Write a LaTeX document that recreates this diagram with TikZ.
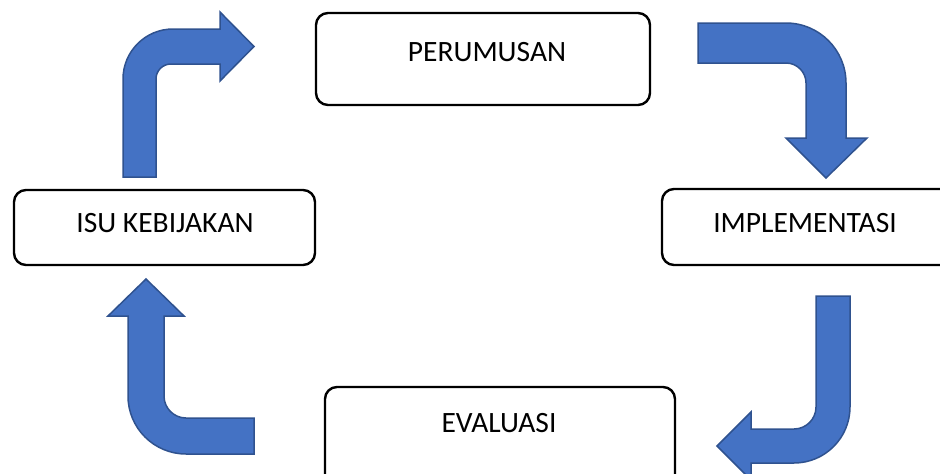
\documentclass[tikz,border=0pt]{standalone}
\usepackage{fontspec}
\setmainfont{Carlito}
\definecolor{arrowfill}{HTML}{4472C4}
\definecolor{arrowline}{HTML}{2F528F}
\begin{document}
\begin{tikzpicture}[x=1pt,y=-1pt,
  box/.style={draw=black,line width=2.4pt,rounded corners=12pt,inner sep=0pt},
  lbl/.style={font=\fontsize{29.5}{34}\selectfont,text=black,inner sep=0pt},
  bent/.style={fill=arrowfill,draw=arrowline,line width=1.5pt,line join=miter}]
\clip (0,0) rectangle (940,474);
% boxes
\node[box,minimum width=334pt,minimum height=92pt] (perum) at (483,59) {};
\node[box,minimum width=301pt,minimum height=75pt] (isu) at (164.5,227.5) {};
\node[box,minimum width=300pt,minimum height=76pt] (impl) at (812,227) {};
\node[box,minimum width=350pt,minimum height=100pt] (eval) at (500,437) {};
% labels
\node[lbl] (perumT) at (487,52) {PERUMUSAN};
\node[lbl] (isuT) at (165,223) {ISU KEBIJAKAN};
\node[lbl] (implT) at (805,223) {IMPLEMENTASI};
\node[lbl] (evalT) at (499,423) {EVALUASI};
% arrow 1: up then right
\draw[bent] (123,177) -- (123,79) .. controls (123,51.4) and (145.4,29) .. (173,29)
  -- (220,29) -- (220,12) -- (254,46.5) -- (220,81) -- (220,64) -- (171,64)
  .. controls (162.7,64) and (156,70.7) .. (156,79) -- (156,177) -- cycle;
% arrow 2: right then down
\draw[bent] (698,23) -- (786,23) .. controls (819.1,23) and (846,49.9) .. (846,83)
  -- (846,138) -- (867,138) -- (826,178) -- (786,138) -- (806,138) -- (806,83)
  .. controls (806,72) and (797,63) .. (786,63) -- (698,63) -- cycle;
% arrow 3: left then up
\draw[bent] (254,418) -- (186,418) .. controls (173.9,418) and (164,408.1) .. (164,396)
  -- (164,316) -- (184,316) -- (146,279) -- (108,316) -- (128,316) -- (128,396)
  .. controls (128,428) and (154,454) .. (186,454) -- (254,454) -- cycle;
% arrow 4: down then left
\draw[bent] (816,296) -- (850,296) -- (850,407) .. controls (850,437.9) and (824.9,463) .. (794,463)
  -- (751,463) -- (751,480) -- (717,446) -- (751,412) -- (751,429) -- (794,429)
  .. controls (806.1,429) and (816,419.1) .. (816,407) -- cycle;
\end{tikzpicture}
\end{document}
